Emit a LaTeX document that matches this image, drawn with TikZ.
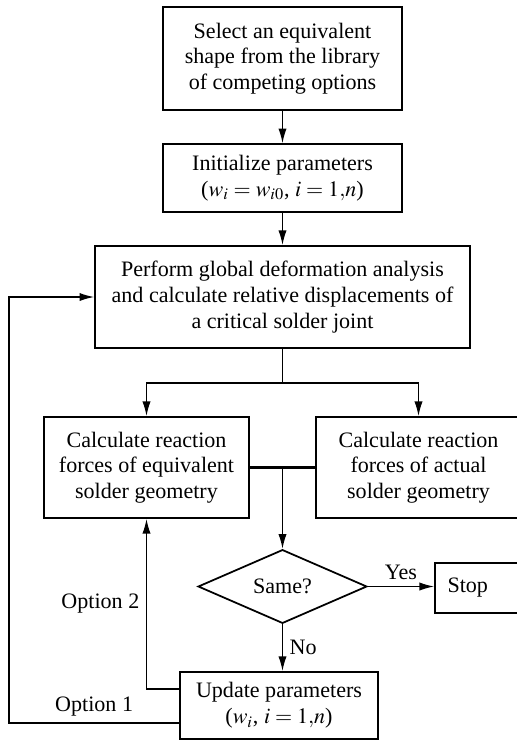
\documentclass[tikz,border=0pt]{standalone}
\usepackage{mathptmx}
\usepackage{fontspec}
\setmainfont{Liberation Serif}
\usetikzlibrary{arrows.meta,positioning,shapes.geometric,calc}

\begin{document}
\begin{tikzpicture}[
  x=0.018cm, y=-0.018cm,
  font=\fontsize{11.3}{13.2}\selectfont,
  box/.style={rectangle, draw=black, line width=0.9pt, align=center, inner sep=0pt},
  decision/.style={diamond, draw=black, line width=0.9pt, align=center, inner sep=0pt},
  arrow/.style={-{Latex[length=7.5pt, width=4.2pt]}, line width=0.7pt},
  link/.style={line width=0.7pt},
  joinline/.style={line width=1.4pt}
]
\useasboundingbox (0,0) rectangle (517,742);

\node[box, minimum width=4.30cm, minimum height=1.85cm] (select) at (282.5,58.5) {Select an equivalent\\shape from the library\\of competing options};
\node[box, minimum width=4.30cm, minimum height=1.22cm] (init) at (282.5,178) {Initialize parameters\\($w_i = w_{i0}$, $i = 1{,}n$)};
\node[box, minimum width=6.75cm, minimum height=1.84cm] (perform) at (282.5,297) {Perform global deformation analysis\\and calculate relative displacements of\\a critical solder joint};
\node[box, minimum width=3.69cm, minimum height=1.82cm] (equiv) at (146.5,467.5) {Calculate reaction\\forces of equivalent\\solder geometry};
\node[box, minimum width=3.69cm, minimum height=1.82cm] (actual) at (418.5,467.5) {Calculate reaction\\forces of actual\\solder geometry};
\node[decision, minimum width=3.04cm, minimum height=1.21cm] (same) at (282.5,586.5) {Same?};
\node[box, minimum width=1.53cm, minimum height=0.90cm] (stop) at (477.5,588) {Stop\hspace*{10pt}};
\node[box, minimum width=3.56cm, minimum height=1.21cm] (update) at (279,705.5) {Update parameters\\($w_i$, $i = 1{,}n$)};

\coordinate (split) at (282.5,383);
\coordinate (merge) at (282.5,467.5);
\coordinate (loop) at (9,723);

\draw[arrow] (select) -- (init);
\draw[arrow] (init) -- (perform);
\draw[link] (perform) -- (split);
\draw[arrow] (split) -| (equiv);
\draw[arrow] (split) -| (actual);
\draw[joinline] (equiv.east) -- (actual.west);
\draw[arrow] (merge) -- (same);
\draw[arrow] (same) -- node[above] {Yes} (same.east -| stop.west);
\draw[arrow] (same.south) -- node[right] {No} (same.south |- update.north);
\draw[arrow] ($(update.west)+(0,-16.5)$) -| node[pos=0.75, left] {Option 2} (equiv);
\draw[arrow] ($(update.west)+(0,17.5)$) -- node[above] {Option 1} (loop) |- (perform.west);
\end{tikzpicture}
\end{document}
